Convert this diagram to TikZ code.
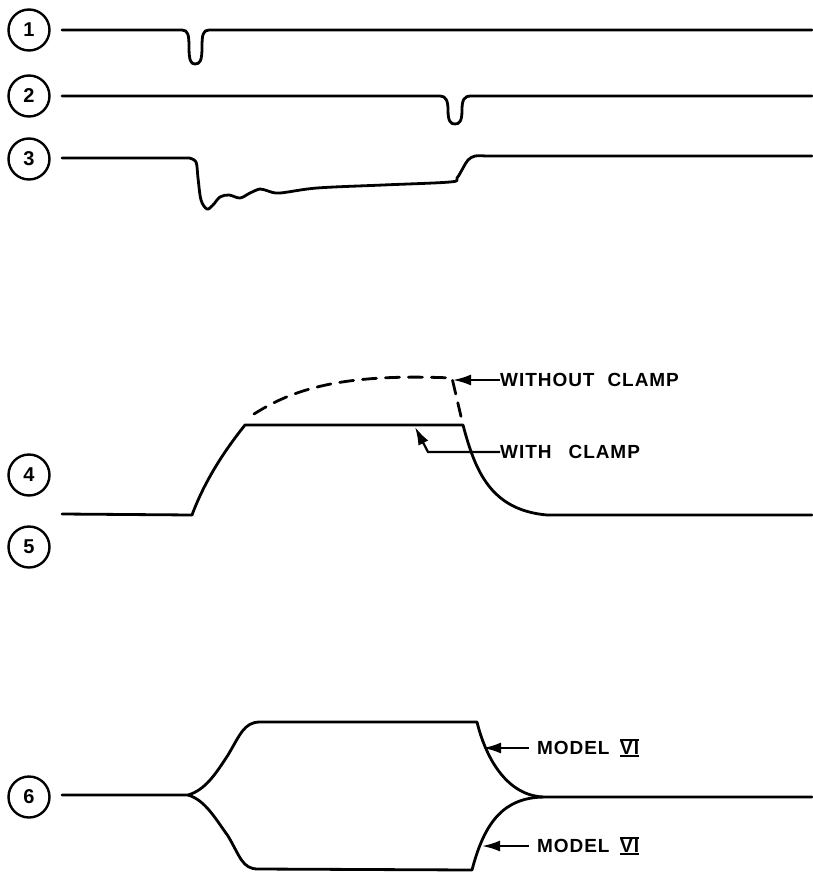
\documentclass[tikz,border=0pt]{standalone}
\usepackage{fontspec}
\setmainfont{Liberation Sans}
\newfontfamily\labfont[LetterSpace=5]{Liberation Sans}
\usetikzlibrary{arrows.meta}
\begin{document}
\begin{tikzpicture}[x=1pt,y=-1pt,
  trace/.style={line width=2.8pt,line cap=round,line join=round},
  numcirc/.style={circle,draw,line width=2.4pt,minimum size=41pt,inner sep=0pt,font=\fontsize{20}{22}\selectfont\bfseries},
  lab/.style={anchor=west,inner sep=0pt,font=\fontsize{19}{21}\labfont\bfseries},
  ptr/.style={line width=2.2pt,-{Latex[length=18pt,width=11pt]}},
  dashtrace/.style={trace,dash pattern=on 14pt off 9pt}]
\useasboundingbox (0,0) rectangle (812,872);

% circled numbers
\node[numcirc] (c1) at (29,30) {1};
\node[numcirc] (c2) at (29,96) {2};
\node[numcirc] (c3) at (29,159) {3};
\node[numcirc] (c4) at (29,475) {4};
\node[numcirc] (c5) at (29,547) {5};
\node[numcirc] (c6) at (29,797) {6};

% trace 1
\draw[trace] (62,30) -- (182,30) .. controls (188,30) and (189,35) .. (189,47)
  .. controls (189,61) and (191,64) .. (195,64) .. controls (200,64) and (202,61) .. (202,47)
  .. controls (202,35) and (203,30) .. (209,30) -- (812,30);

% trace 2
\draw[trace] (62,96) -- (440,96) .. controls (446,96) and (448,101) .. (448,110)
  .. controls (448,122) and (451,124) .. (455,124) .. controls (459,124) and (462,122) .. (462,110)
  .. controls (462,100) and (464,96) .. (471,96) -- (812,96);

% trace 3
\draw[trace] (62,158) -- (189,158) plot[smooth,tension=0.55] coordinates {(189,158) (196,162) (198,178) (201,200) (207,209) (213,205) (220,197) (229,195) (240,198) (250,193) (260,189) (268,191) (280,193) (317,188) (383,185) (450,182) (457,178) (463,168) (468,160) (475,156) (486,156)} -- (812,156);

% trace 4/5
\draw[trace] (62,514) -- (192,515) .. controls (205,480) and (225,450) .. (245,425)
  -- (463,425) .. controls (475,470) and (490,510) .. (547,515) -- (812,515);
\draw[dashtrace] (254,414) .. controls (292,390) and (340,373) .. (452,378) -- (463,425);
\coordinate (woc) at (453,380);
\coordinate (wc) at (415,427);
\coordinate (wcb) at (428,452);
\node[lab] (without) at (500,380) {WITHOUT\hspace{13pt}CLAMP};
\node[lab] (with) at (500,452) {WITH\hspace{17pt}CLAMP};
\draw[ptr] (without.west) -- (woc);
\draw[ptr] (with.west) -- (wcb) -- (wc);

% trace 6
\draw[trace] (62,795) -- (188,795) .. controls (205,790) and (215,775) .. (228,755)
  .. controls (240,735) and (244,722) .. (260,722) -- (477,722)
  .. controls (485,755) and (505,795) .. (543,797) -- (812,797);
\draw[trace] (188,795) .. controls (205,800) and (215,818) .. (228,836)
  .. controls (240,856) and (242,869) .. (258,869) -- (472,870)
  .. controls (485,820) and (505,798) .. (543,797);
\coordinate (m1) at (483,748);
\coordinate (m2) at (482,846);
\node[lab] (mod1) at (537,748) {MODEL};
\node[lab] (mod2) at (537,846) {MODEL};
\node[lab,inner ysep=1pt] (vi1) at (620,748) {VI};
\node[lab,inner ysep=1pt] (vi2) at (620,846) {VI};
\draw[line width=2pt] (vi1.north west) -- (vi1.north east) (vi1.south west) -- (vi1.south east);
\draw[line width=2pt] (vi2.north west) -- (vi2.north east) (vi2.south west) -- (vi2.south east);
\draw[ptr] ([xshift=-8pt]mod1.west) -- (m1);
\draw[ptr] ([xshift=-8pt]mod2.west) -- (m2);
\end{tikzpicture}
\end{document}
